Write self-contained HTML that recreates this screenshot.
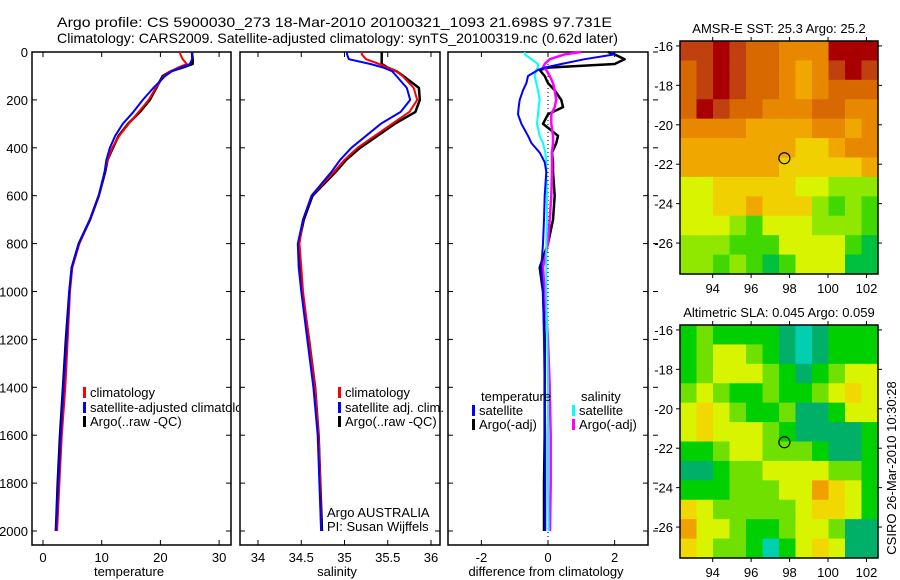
<!DOCTYPE html>
<html><head><meta charset="utf-8">
<style>
body{margin:0;background:#fff;}
svg{display:block;font-family:"Liberation Sans",sans-serif;}
text{font-size:13px;fill:#000;}
</style></head>
<body>
<svg id="chart" width="900" height="580" viewBox="0 0 900 580">
<text x="57" y="27" style="font-size:14px" textLength="555" lengthAdjust="spacingAndGlyphs">Argo profile: CS 5900030_273 18-Mar-2010 20100321_1093 21.698S 97.731E</text>
<text x="57" y="43" style="font-size:14px" textLength="561" lengthAdjust="spacingAndGlyphs">Climatology: CARS2009. Satellite-adjusted climatology: synTS_20100319.nc (0.62d later)</text>
<defs><clipPath id="c1"><rect x="32" y="52" width="207" height="493"/></clipPath></defs>
</svg>
<script>
// ---- profile data ----
const depthTS = [0,10,30,50,65,80,100,150,200,250,300,350,400,450,500,600,700,800,900,1000,1200,1400,1600,1800,2000];
const tempClim = [23.3,23.4,23.8,24.5,23.0,21.8,20.6,19.2,18.0,16.3,14.6,13.0,11.8,11.0,10.5,9.5,8.0,6.2,5.0,4.6,4.2,3.8,3.2,2.8,2.4];
const tempSat = [25.4,25.4,25.4,25.0,23.5,22.0,20.8,18.8,17.0,15.4,13.6,12.3,11.4,10.8,10.5,9.5,8.0,6.1,4.9,4.5,4.0,3.5,3.0,2.6,2.2];
const tempArgo = [25.4,25.4,25.5,25.5,23.8,21.8,20.4,19.3,18.2,16.5,14.5,12.9,11.9,11.0,10.6,9.5,8.0,6.1,4.9,4.5,3.9,3.4,2.9,2.5,2.2];
const salClim = [35.2,35.2,35.25,35.4,35.5,35.6,35.67,35.8,35.84,35.75,35.55,35.35,35.15,35.0,34.88,34.62,34.52,34.48,34.50,34.52,34.59,34.66,34.70,34.72,34.73];
const salSat = [35.03,35.03,35.05,35.3,35.45,35.55,35.6,35.72,35.76,35.65,35.42,35.25,35.08,34.95,34.85,34.62,34.52,34.46,34.47,34.50,34.57,34.64,34.69,34.71,34.73];
const salArgo = [35.43,35.43,35.43,35.43,35.5,35.6,35.68,35.86,35.87,35.82,35.58,35.38,35.18,35.02,34.9,34.63,34.53,34.47,34.48,34.51,34.59,34.66,34.70,34.72,34.74];
const depthDiff = [0,10,30,50,65,75,100,130,160,200,230,260,300,350,380,420,460,500,600,700,800,900,1000,1200,1400,1600,1800,2000];
const diffTSat = [1.9,2.0,1.1,0.4,-0.1,-0.3,-0.6,-0.65,-0.75,-0.85,-0.88,-0.9,-0.8,-0.6,-0.5,-0.25,-0.1,-0.05,-0.1,-0.12,-0.15,-0.2,-0.15,-0.12,-0.1,-0.08,-0.08,-0.08];
const diffTArgo = [1.8,2.0,2.3,2.0,0.0,-0.25,-0.1,0.0,0.2,0.4,0.45,0.0,-0.15,0.3,0.25,0.12,0.15,0.15,0.2,0.15,0.0,-0.25,-0.15,-0.1,-0.1,-0.1,-0.12,-0.12];
const diffSSat = [-0.7,-0.7,-0.5,-0.3,-0.3,-0.35,-0.4,-0.35,-0.3,-0.25,-0.28,-0.3,-0.33,-0.25,-0.15,-0.08,-0.05,-0.05,-0.03,-0.03,-0.05,-0.05,-0.05,-0.02,0,0,0,0.02];
const diffSArgo = [1.0,0.5,0.05,-0.1,-0.15,-0.05,0.05,0.15,0.2,0.25,0.2,0.1,0.1,0.15,0.15,0.12,0.12,0.12,0.1,0.05,0.0,-0.15,-0.1,0.0,0.05,0.08,0.08,0.06];
const depthTicks = [0,200,400,600,800,1000,1200,1400,1600,1800,2000];
const tempTicks = [0,10,20,30];
const salTicks = ["34","34.5","35","35.5","36"];
const diffTicks = [-2,0,2];
// ---- map data (12x12 grids) ----
const sstGrid = [
[8,8,9,8,7,7,6,6,6,9,9,9],
[7,8,9,8,7,7,6,5,6,8,9,8],
[7,8,9,8,7,7,6,5,6,7,7,7],
[7,9,8,7,7,6,6,6,7,7,6,6],
[6,6,6,6,5,5,5,5,6,6,5,6],
[5,5,5,5,5,5,5,4,4,5,6,6],
[5,5,5,5,5,5,4,4,4,4,4,5],
[3,3,4,4,4,4,4,3,3,2,2,2],
[3,3,4,4,5,4,4,4,2,1,2,1],
[3,3,3,2,1,3,3,3,2,2,2,1],
[2,2,2,1,1,1,3,3,3,3,1,0],
[2,2,1,2,1,0,1,3,3,3,0,0]];
const slaGrid = [
[2,3,2,2,2,2,1,0,1,2,2,2],
[2,3,4,4,3,2,1,0,1,2,2,2],
[2,3,4,4,4,3,2,1,2,3,4,4],
[3,4,3,2,2,3,2,2,3,4,5,4],
[4,5,4,3,2,2,3,1,1,2,4,4],
[4,5,4,4,4,3,2,1,1,1,1,2],
[2,2,3,4,4,3,3,3,2,1,1,2],
[1,1,2,3,3,4,4,4,4,3,3,2],
[2,2,2,3,3,3,4,4,6,5,4,2],
[5,4,3,3,3,3,3,4,5,5,4,2],
[6,4,4,3,2,2,3,4,4,3,1,1],
[5,4,3,3,2,0,2,4,5,4,1,1]];
const lonTicks = [94,96,98,100,102];
const latTicks = [-16,-18,-20,-22,-24,-26];
const argoLon = 97.731, argoLat = -21.698;

const NS="http://www.w3.org/2000/svg";
const svg=document.getElementById('chart');
function mk(tag,attrs,parent){const e=document.createElementNS(NS,tag);for(const k in attrs)e.setAttribute(k,attrs[k]);(parent||svg).appendChild(e);return e;}
const yD = d => 52 + d*0.2395;
const xT = v => 43 + v*5.87;
const xS = v => 258 + (v-34)*86.5;
const xDf = v => 548 + v*33.3;

function panel(x0,x1,name){
  const r=mk('rect',{x:x0,y:52,width:x1-x0,height:493,fill:'none',stroke:'#000','stroke-width':1.5});
  
  
  depthTicks.forEach(d=>{
    mk('line',{x1:x0,x2:x0+5,y1:yD(d),y2:yD(d),stroke:'#000'});
    mk('line',{x1:x1-5,x2:x1,y1:yD(d),y2:yD(d),stroke:'#000'});
  });
}
function xtick(x,label,name){
  mk('line',{x1:x,x2:x,y1:52,y2:57,stroke:'#000'});
  mk('line',{x1:x,x2:x,y1:540,y2:545,stroke:'#000'});
  const t=mk('text',{x:x,y:562,'text-anchor':'middle'});t.textContent=label;
  
  
}
function line(xs,ds,sx,color,name,w){
  const p=mk('polyline',{points:xs.map((v,i)=>sx(v).toFixed(1)+','+yD(ds[i]).toFixed(1)).join(' '),fill:'none',stroke:color,'stroke-width':w||2,'stroke-linejoin':'round'});
  
  
}
function legend(x,y,color,label,name){
  if(color) mk('rect',{x:x,y:y-10,width:3,height:11,fill:color});
  const t=mk('text',{x:x+7,y:y});t.textContent=label;
  
  
}
depthTicks.forEach(d=>{const t=mk('text',{x:28,y:yD(d)+5,'text-anchor':'end'});t.textContent=d;
  
  });
// panel 1
panel(32,231,'temperature-panel');
tempTicks.forEach(v=>xtick(xT(v),v,'temp-tick-label'));
line(tempArgo,depthTS,xT,'#000','temp-argo-line',2.5);
line(tempClim,depthTS,xT,'#f00','temp-climatology-line');
line(tempSat,depthTS,xT,'#00f','temp-satellite-line');
let t=mk('text',{x:129,y:576,'text-anchor':'middle'});t.textContent='temperature';


const g1=mk('g',{'clip-path':'url(#c1)'});
[['#f00','climatology',397],['#00f','satellite-adjusted climatology',412],['#000','Argo(..raw -QC)',426]].forEach(a=>{
  mk('rect',{x:83,y:a[2]-10,width:3,height:11,fill:a[0]},g1);
  const tt=mk('text',{x:90,y:a[2]},g1);tt.textContent=a[1];
  
  
});
// panel 2
panel(240,440,'salinity-panel');
salTicks.forEach(v=>xtick(xS(parseFloat(v)),v,'sal-tick-label'));
line(salArgo,depthTS,xS,'#000','sal-argo-line',2.5);
line(salClim,depthTS,xS,'#f00','sal-climatology-line');
line(salSat,depthTS,xS,'#00f','sal-satellite-line');
t=mk('text',{x:337,y:576,'text-anchor':'middle'});t.textContent='salinity';


legend(338,397,'#f00','climatology','sal-legend-climatology');
legend(338,412,'#00f','satellite adj. clim.','sal-legend-satellite');
legend(338,426,'#000','Argo(..raw -QC)','sal-legend-argo');
t=mk('text',{x:327,y:517});t.textContent='Argo AUSTRALIA';


t=mk('text',{x:327,y:531});t.textContent='PI: Susan Wijffels';


// panel 3
panel(448,648,'difference-panel');
diffTicks.forEach(v=>xtick(xDf(v),v,'diff-tick-label'));
mk('line',{x1:xDf(0),x2:xDf(0),y1:52,y2:545,stroke:'#000','stroke-dasharray':'1,3'});
depthTicks.forEach(d=>mk('line',{x1:653,x2:658,y1:yD(d),y2:yD(d),stroke:'#000'}));
line(diffTArgo,depthDiff,xDf,'#000','diff-temp-argo-line',2.5);
line(diffSArgo,depthDiff,xDf,'#f0f','diff-sal-argo-line',2.5);
line(diffSSat,depthDiff,xDf,'#0ff','diff-sal-satellite-line');
line(diffTSat,depthDiff,xDf,'#00f','diff-temp-satellite-line');
t=mk('text',{x:546,y:576,'text-anchor':'middle'});t.textContent='difference from climatology';


legend(474,401,null,'temperature','diff-legend-temperature');
legend(472,415,'#00f','satellite','diff-legend-temp-satellite');
legend(472,429,'#000','Argo(-adj)','diff-legend-temp-argo');
legend(574,401,null,'salinity','diff-legend-salinity');
legend(572,415,'#0ff','satellite','diff-legend-sal-satellite');
legend(572,429,'#f0f','Argo(-adj)','diff-legend-sal-argo');

// ---- maps ----
const sstColors=['#00c040','#40d800','#90e800','#d8f400','#f0d000','#f0a800','#e88800','#d86800','#c04010','#a80000'];
const slaColors=['#00d0b0','#00b068','#00d000','#70e000','#d8f400','#f0d800','#f0a000'];
const mapLon0=92.3, mapLon1=102.6, mapLat0=-15.75, mapLat1=-27.57;
function drawMap(top,bot,grid,colors,title,name){
  const X=lon=>680+(lon-mapLon0)/(mapLon1-mapLon0)*198;
  const Y=lat=>top+(lat-mapLat0)/(mapLat1-mapLat0)*(bot-top);
  const g=mk('g',{});
  
  
  const nr=grid.length,nc=grid[0].length;
  const dlon=(mapLon1-mapLon0)/nc,dlat=(mapLat1-mapLat0)/nr;
  grid.forEach((row,i)=>row.forEach((v,j)=>{
    const x0=X(mapLon0+j*dlon),x1=X(mapLon0+(j+1)*dlon),y0=Y(mapLat0+i*dlat),y1=Y(mapLat0+(i+1)*dlat);
    const c=mk('rect',{x:x0,y:y0,width:x1-x0+0.5,height:y1-y0+0.5,fill:colors[v]},g);
    
    
  }));
  mk('rect',{x:680,y:top,width:198,height:bot-top,fill:'none',stroke:'#000','stroke-width':1.5},g);
  lonTicks.forEach(l=>{mk('line',{x1:X(l),x2:X(l),y1:bot,y2:bot+4,stroke:'#000'});mk('line',{x1:X(l),x2:X(l),y1:top-4,y2:top,stroke:'#000'});
    const tt=mk('text',{x:X(l),y:bot+19,'text-anchor':'middle'});tt.textContent=l;
    
    });
  latTicks.forEach(l=>{mk('line',{x1:676,x2:680,y1:Y(l),y2:Y(l),stroke:'#000'});mk('line',{x1:878,x2:882,y1:Y(l),y2:Y(l),stroke:'#000'});
    const tt=mk('text',{x:673,y:Y(l)+5,'text-anchor':'end'});tt.textContent=l;
    
    });
  const c=mk('circle',{cx:X(argoLon),cy:Y(argoLat),r:5.5,fill:'none',stroke:'#000','stroke-width':1.2});
  
  
  const tt=mk('text',{x:779,y:top-8,'text-anchor':'middle'});tt.textContent=title;
  
  
}
drawMap(41,274,sstGrid,sstColors,'AMSR-E SST: 25.3 Argo: 25.2','sst-map');
drawMap(325,558,slaGrid,slaColors,'Altimetric SLA: 0.045 Argo: 0.059','sla-map');
t=mk('text',{x:0,y:0,'text-anchor':'middle',transform:'translate(896,468) rotate(-90)'});t.textContent='CSIRO 26-Mar-2010 10:30:28';


</script>
</body></html>
